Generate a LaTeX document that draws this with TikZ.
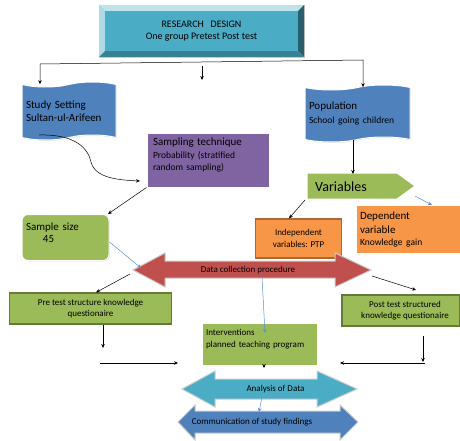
\documentclass[tikz,border=0pt]{standalone}
\usepackage{fontspec}
\setmainfont{Carlito}
\usetikzlibrary{shapes.symbols,shadows,arrows.meta}

\definecolor{dteal}{HTML}{4BACC6}
\definecolor{dblue}{HTML}{4F81BD}
\definecolor{dpurple}{HTML}{8064A2}
\definecolor{dgreen}{HTML}{9BBB59}
\definecolor{dorange}{HTML}{F79646}
\definecolor{dred}{HTML}{C0504D}
\definecolor{lblue}{HTML}{5B8FD6}

\tikzset{
  box/.style={rectangle,draw=white,line width=1pt,inner sep=0pt,
    drop shadow={opacity=0.3,shadow xshift=0.8pt,shadow yshift=-0.8pt}},
  tapebox/.style={tape,fill=dblue,draw=white,line width=1pt,inner sep=0pt,
    tape bend height=5pt,align=left,
    drop shadow={opacity=0.3,shadow xshift=0.8pt,shadow yshift=-0.8pt}},
  framed/.style={rectangle,line width=1.2pt,inner sep=0pt,align=center},
  dbl/.style={draw=white!80!black,line width=1pt},
  arr/.style={-{Stealth[length=4pt,width=3.5pt]},black,line width=0.5pt},
  barr/.style={-{Stealth[length=4pt,width=3.5pt]},lblue,line width=0.5pt}
}

\begin{document}
\begin{tikzpicture}[x=1pt,y=-1pt]
      \useasboundingbox (0,0) rectangle (460,441);
      % research design, bevelled
      \fill[dteal!55!white,draw=gray!40] (99,5) rectangle (304,57);
      \fill[dteal!35!white] (99,5) -- (304,5) -- (298,11) -- (105,11) -- cycle;
      \fill[dteal!45!white] (99,5) -- (105,11) -- (105,51) -- (99,57) -- cycle;
      \fill[dteal!55!black] (304,5) -- (304,57) -- (298,51) -- (298,11) -- cycle;
      \fill[dteal!75!black] (99,57) -- (304,57) -- (298,51) -- (105,51) -- cycle;
      \node[fill=dteal,minimum width=193pt,minimum height=40pt,inner sep=0pt,
        align=center,font=\fontsize{10}{12}\selectfont] (rd) at (201.5,31)
        {RESEARCH\ \ \ DESIGN\\One group Pretest Post test};
      \coordinate (rdl) at (40,64);
      \coordinate (rdr) at (363,60);
      \coordinate (rdm) at (202,66);
      % tapes
      \node[tapebox,minimum width=94pt,minimum height=58pt,text width=86pt,
        font=\fontsize{11}{13}\selectfont] (study) at (69,111)
        {Study Setting\\Sultan-ul-Arifeen};
      \node[tapebox,minimum width=105pt,minimum height=57pt,text width=97pt,
        font=\fontsize{11}{14}\selectfont] (pop) at (357.5,113.5)
        {Population\\{\fontsize{9.5}{10}\selectfont School going children}};
      % sampling technique
      \node[box,fill=dpurple,minimum width=122pt,minimum height=54pt,
        text width=110pt,align=left,text depth=36pt,
        font=\fontsize{9.5}{12.5}\selectfont] (samp) at (208,160)
        {{\fontsize{11}{12}\selectfont Sampling technique}\\Probability (stratified\\random sampling)};
      % variables
      \fill[dgreen,draw=white,line width=1pt] (307,173) -- (397,173) -- (415,186)
        -- (397,199) -- (307,199) -- cycle;
      \node[anchor=west,inner sep=0pt,font=\fontsize{14}{16}\selectfont] (var)
        at (315,187) {Variables};
      % sample size
      \node[box,rounded corners=6pt,fill=dgreen,minimum width=87pt,minimum height=46pt,
        text width=79pt,align=left,text depth=22pt,
        font=\fontsize{11}{12.5}\selectfont] (ssize) at (65.5,237.5)
        {Sample size\\\hspace*{17pt}45};
      % independent / dependent
      \node[framed,fill=dorange,draw=dorange!70!black,minimum width=86pt,
        minimum height=39pt,font=\fontsize{9}{11.5}\selectfont] (indep) at (298.5,238.5)
        {Independent\\variables: PTP};
      \node[box,fill=dorange,minimum width=104pt,minimum height=48pt,
        text width=96pt,align=left,font=\fontsize{11}{13.5}\selectfont] (dep)
        at (408,229.5)
        {Dependent\\variable\\[-1.5pt]{\fontsize{9.5}{10}\selectfont Knowledge gain}};
      % data collection procedure
      \fill[dred,dbl] (133,270) -- (165,253) -- (165,261) -- (335,261) -- (335,253)
        -- (371,270) -- (335,287) -- (335,278) -- (165,278) -- (165,287) -- cycle;
      \node[inner sep=0pt,font=\fontsize{9}{10}\selectfont] (dcp) at (248,270)
        {Data collection procedure};
      % pre and post test
      \node[framed,fill=dgreen,draw=dgreen!65!black,minimum width=162pt,
        minimum height=31pt,font=\fontsize{9}{11}\selectfont] (pre) at (90.5,308.5)
        {Pre test structure knowledge\\questionaire};
      \node[framed,fill=dgreen,draw=dgreen!65!black,minimum width=118pt,
        minimum height=31pt,font=\fontsize{9}{11.5}\selectfont] (post) at (401,310.5)
        {\hspace*{8pt}Post test structured\\\hspace*{8pt}knowledge questionaire};
      % interventions
      \node[box,fill=dgreen,minimum width=115pt,minimum height=42pt,
        text width=107pt,align=left,text depth=23pt,
        font=\fontsize{9}{11.5}\selectfont] (interv) at (259.5,344)
        {Interventions\\planned teaching program};
      % analysis and communication
      \fill[dteal,dbl] (182,389) -- (215,371) -- (215,379) -- (317,379) -- (317,371)
        -- (357,389) -- (317,407) -- (317,399) -- (215,399) -- (215,407) -- cycle;
      \node[inner sep=0pt,font=\fontsize{9}{10}\selectfont] (anal) at (275.5,389)
        {Analysis of Data};
      \fill[dblue,dbl] (178,422) -- (195,405) -- (195,411) -- (340,411) -- (340,405)
        -- (358,422) -- (340,440) -- (340,433) -- (195,433) -- (195,440) -- cycle;
      \node[inner sep=0pt,font=\fontsize{9}{10}\selectfont] (comm) at (252,422)
        {Communication of study findings};
      % connectors
      \draw[{Stealth[length=4pt,width=3.5pt]}-{Stealth[length=4pt,width=3.5pt]},line width=0.5pt]
        (study.north -| rdl) -- (rdl) -- (rdr) -- (pop.north -| rdr);
      \draw[arr] (rdm) -- ++(0,14);
      \draw[arr] (39,135) .. controls (75,134) and (88,148) .. (91,162)
        .. controls (95,178) and (118,180) .. (140,181);
      \draw[arr] (samp.south west) -- (108,214);
      \draw[arr] (pop.south -| 353,0) -- (353,174);
      \draw[arr] (305,200) -- (indep.north -| 289,0);
      \draw[barr] (415,196) -- (dep.north -| 432,0);
      \draw[barr] (ssize.east |- 0,242) -- (141,268);
      \draw[arr] (130,274) -- (pre.north -| 96,0);
      \draw[arr] (372,276) -- (416,290);
      \draw[barr] (262,277) -- (265,333);
      \draw[arr] (pre.south -| 103,0) -- (103,348);
      \draw[arr] (100,363) -- (178,363);
      \draw[arr] (interv.south -| 264,0) -- (264,368);
      \draw[arr] (423,336) -- (423,362);
      \draw[arr] (425,363) -- (340,363);
      \draw[barr] (262,397) -- (259,412);
    \end{tikzpicture}
\end{document}
